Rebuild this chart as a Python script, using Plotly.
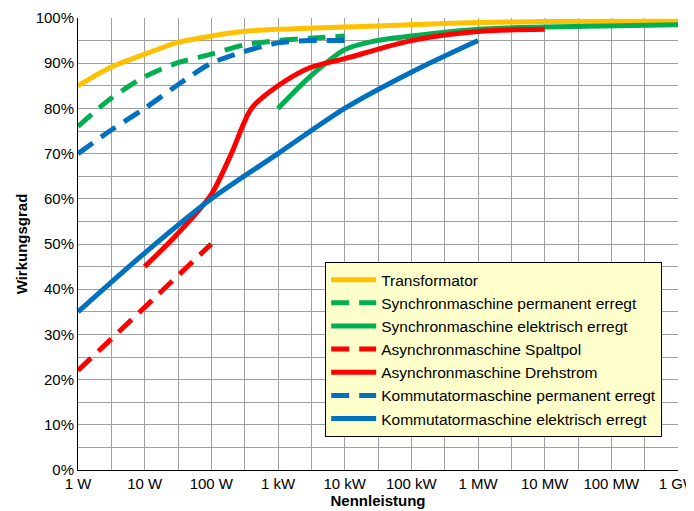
import plotly.graph_objects as go

# Nennleistung in W, Wirkungsgrad in %
trafo_p = [1, 3, 10, 30, 100, 300, 1e3, 1e4, 1e5, 1e6, 1e7, 1e9]
trafo_eta = [85, 89, 92, 94.5, 96, 97, 97.5, 98, 98.5, 99, 99.2, 99.3]

sync_perm_p = [1, 3, 10, 30, 100, 300, 1e3, 3e3, 1e4]
sync_perm_eta = [76, 82, 87, 90, 92, 94, 95, 95.5, 96]

sync_el_p = [1e3, 3e3, 1e4, 3e4, 1e5, 1e6, 1e7, 1e9]
sync_el_eta = [80, 87, 93, 95, 96, 97.5, 98, 98.5]

asyn_sp_p = [1, 100]
asyn_sp_eta = [22, 50]

asyn_dr_p = [10, 30, 100, 200, 400, 1e3, 3e3, 1e4, 1e5, 1e6, 1e7]
asyn_dr_eta = [45, 52, 61, 70, 80, 85, 89, 91, 95, 97, 97.5]

komm_perm_p = [1, 3, 10, 30, 100, 300, 1e3, 3e3, 1e4]
komm_perm_eta = [70, 75, 80, 85, 90, 92.5, 94.5, 95, 95]

komm_el_p = [1, 10, 100, 1e3, 1e4, 1e5, 1e6]
komm_el_eta = [35, 48, 60, 70, 80, 88, 95]

tick_vals = [1, 10, 100, 1e3, 1e4, 1e5, 1e6, 1e7, 1e8, 1e9]
tick_text = ["1 W", "10 W", "100 W", "1 kW", "10 kW", "100 kW", "1 MW", "10 MW", "100 MW", "1 GW"]

ORANGE, GREEN, RED, BLUE = "#FFC000", "#00B050", "#FF0000", "#0070C0"

series = [
    ("Transformator", trafo_p, trafo_eta, ORANGE, "solid"),
    ("Synchronmaschine permanent erregt", sync_perm_p, sync_perm_eta, GREEN, "dash"),
    ("Synchronmaschine elektrisch erregt", sync_el_p, sync_el_eta, GREEN, "solid"),
    ("Asynchronmaschine Spaltpol", asyn_sp_p, asyn_sp_eta, RED, "dash"),
    ("Asynchronmaschine Drehstrom", asyn_dr_p, asyn_dr_eta, RED, "solid"),
    ("Kommutatormaschine permanent erregt", komm_perm_p, komm_perm_eta, BLUE, "dash"),
    ("Kommutatormaschine elektrisch erregt", komm_el_p, komm_el_eta, BLUE, "solid"),
]

fig = go.Figure()
for name, p, eta, color, dash in series:
    fig.add_trace(go.Scatter(
        x=p, y=eta, name=name, mode="lines",
        line=dict(color=color, width=5, dash="18px,10px" if dash == "dash" else "solid",
                  shape="spline", smoothing=0.8),
    ))

half = [10 ** (k + 0.5) for k in range(9)]

fig.update_layout(
    width=694, height=511,
    margin=dict(l=70, r=24, t=10, b=49),
    paper_bgcolor="white", plot_bgcolor="white",
    font=dict(family="Liberation Sans, Arial, sans-serif", size=15, color="black"),
    xaxis=dict(
        type="log", range=[0, 9], tickvals=tick_vals, ticktext=tick_text,
        showgrid=True, gridcolor="#A0A0A0", gridwidth=1, automargin=False,
        minor=dict(tickmode="array", tickvals=half, showgrid=True, gridcolor="#A0A0A0", gridwidth=1),
        showline=True, linecolor="black", linewidth=1, mirror=False,
        title=dict(text="<b>Nennleistung</b>", standoff=2, font=dict(size=15)),
        ticks="", zeroline=False,
    ),
    yaxis=dict(
        range=[0, 100], dtick=10, ticksuffix="%", automargin=False,
        showgrid=True, gridcolor="#A0A0A0", gridwidth=1,
        minor=dict(dtick=5, showgrid=True, gridcolor="#A0A0A0", gridwidth=1),
        showline=True, linecolor="black", linewidth=1,
        title=dict(text="<b>Wirkungsgrad</b>", standoff=4, font=dict(size=15)),
        ticks="", zeroline=False,
    ),
    legend=dict(
        x=0.412, y=0.46, xanchor="left", yanchor="top",
        bgcolor="#FFFFCC", bordercolor="black", borderwidth=1,
        font=dict(size=15.5), tracegroupgap=2, itemwidth=45,
    ),
)

fig.write_html("out.html")
